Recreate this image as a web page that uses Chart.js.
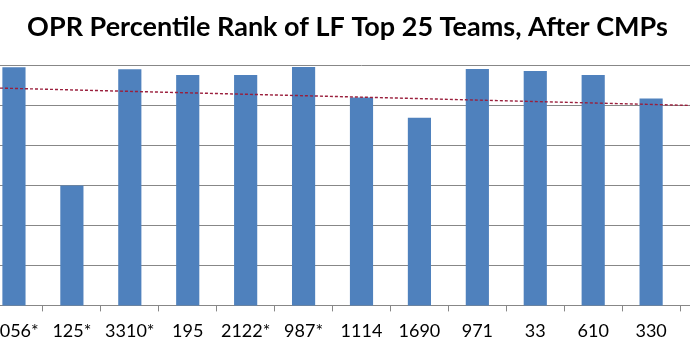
<!DOCTYPE html>
<html>
<head>
<meta charset="utf-8">
<script src="https://cdn.jsdelivr.net/npm/chart.js@4/dist/chart.umd.min.js"></script>
<style>
  html, body { margin: 0; padding: 0; background: #fff; overflow: hidden; }
  #frame { position: relative; width: 690px; height: 349px; overflow: hidden; background: #fff; }
  #chart { position: absolute; left: -43px; top: 0; }
</style>
</head>
<body>
<div id="frame"><canvas id="chart" width="781" height="352"></canvas></div>
<script>
// Teams shown along the axis (the last slot continues past the right edge)
const teams = ['2056*', '125*', '3310*', '195', '2122*', '987*', '1114', '1690', '971', '33', '610', '330', ''];
// OPR percentile rank of each team after the championships
const percentileRank = [0.9955, 0.700, 0.9905, 0.976, 0.976, 0.996, 0.920, 0.869, 0.991, 0.986, 0.976, 0.917, null];
// Linear trendline, given by its value at the two edges of the plot
const trendX = [-0.5, 12.5];
const trendY = [0.9442, 0.8970];
// Value axis range and gridline step
const yMin = 0.4, yMax = 1.0, yStep = 0.1;

const gridGray = '#878787';

new Chart(document.getElementById('chart'), {
  type: 'bar',
  data: {
    labels: teams,
    datasets: [
      {
        type: 'bar',
        data: percentileRank,
        backgroundColor: '#4F81BD',
        borderWidth: 0,
        grouped: false,
        categoryPercentage: 1.0,
        barPercentage: 0.4,
        xAxisID: 'x',
        order: 2
      },
      {
        type: 'line',
        data: trendX.map((x, i) => ({ x: x, y: trendY[i] })),
        xAxisID: 'xt',
        borderColor: '#9a1f3c',
        borderWidth: 1.4,
        borderDash: [3, 2],
        pointRadius: 0,
        fill: false,
        order: 1
      }
    ]
  },
  options: {
    responsive: false,
    animation: false,
    layout: { padding: { left: 0, right: 0, top: 0, bottom: 1 } },
    plugins: {
      legend: { display: false },
      tooltip: { enabled: false },
      title: {
        display: true,
        text: 'OPR Percentile Rank of LF Top 25 Teams, After CMPs',
        color: '#000',
        font: { family: 'Lato', size: 27, weight: 'bold' },
        padding: { top: 11, bottom: 22 }
      }
    },
    scales: {
      x: {
        type: 'category',
        offset: true,
        grid: {
          display: true,
          drawOnChartArea: false,
          drawTicks: true,
          tickLength: 6,
          offset: true,
          color: gridGray
        },
        border: { display: true, color: gridGray, width: 1 },
        ticks: {
          color: '#000',
          font: { family: 'Lato', size: 18 },
          autoSkip: false,
          maxRotation: 0,
          minRotation: 0,
          padding: 9
        }
      },
      xt: {
        type: 'linear',
        display: false,
        offset: false,
        min: -0.5,
        max: 12.5
      },
      y: {
        min: yMin,
        max: yMax,
        ticks: { display: false, stepSize: yStep },
        grid: { color: gridGray, lineWidth: 1, drawTicks: false },
        border: { display: false },
        afterFit: (scale) => { scale.width = 28; }
      }
    }
  }
});
</script>
</body>
</html>
